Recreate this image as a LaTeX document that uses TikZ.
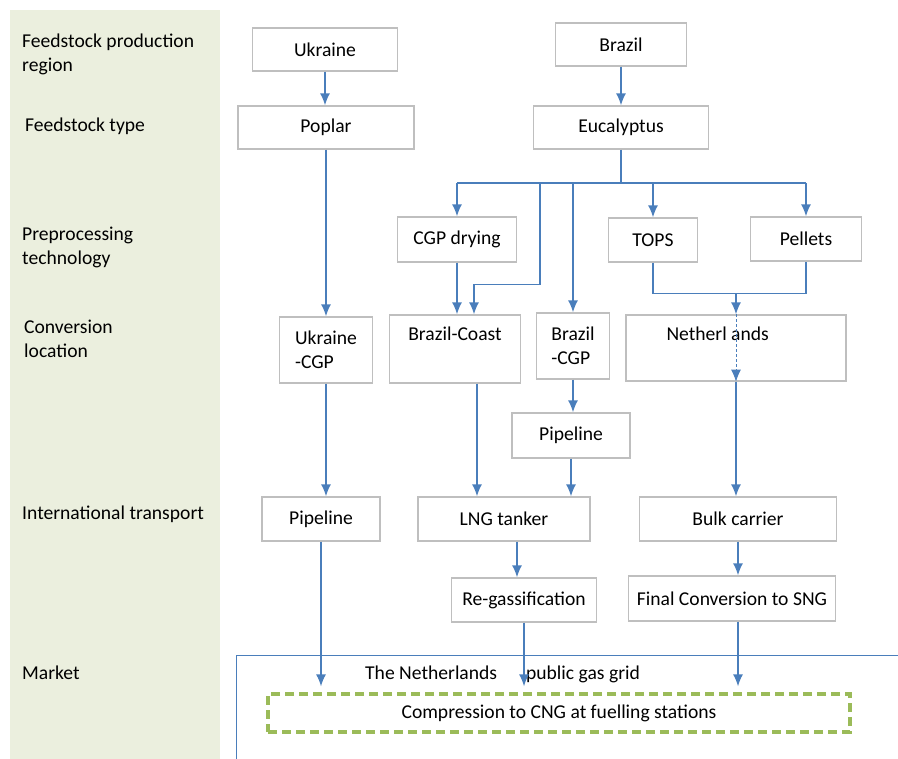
\documentclass[tikz,border=0pt]{standalone}
\usepackage{fontspec}
\setmainfont{Carlito}
\usepackage{tikz}
\usetikzlibrary{arrows.meta, calc}
\definecolor{lanegreen}{RGB}{235, 239, 222}
\definecolor{boxgray}{RGB}{191, 191, 191}
\definecolor{flowblue}{RGB}{74, 126, 187}
\definecolor{cnggreen}{RGB}{155, 187, 89}

\tikzset{
	stage/.style={draw=boxgray, line width=1.3pt, fill=white},
	rowlabel/.style={anchor=west, align=left, inner sep=0pt},
	link/.style={draw=flowblue, line width=1.5pt},
	flow/.style={link, -{Latex[length=12pt, width=10pt]}},
	topline/.style={anchor=north, inner sep=0pt, yshift=-12pt}
}

\begin{document}
\begin{tikzpicture}[x=1pt, y=-1pt, font=\fontsize{19.6}{24}\selectfont]
			\useasboundingbox (0, 0) rectangle (898, 759);
			\fill[lanegreen] (10, 10) rectangle (220, 759);
			
			\node[rowlabel] (rregion) at (22, 54)  {Feedstock production\\region};
			\node[rowlabel] (rtype)   at (25, 126) {Feedstock type};
			\node[rowlabel] (rprep)   at (22, 247) {Preprocessing\\technology};
			\node[rowlabel] (rconv)   at (24, 339) {Conversion\\location};
			\node[rowlabel] (rtrans)  at (22, 514) {International transport};
			\node[rowlabel] (rmarket) at (22, 673) {Market};
			
			\node[stage, minimum width=145pt, minimum height=43pt] (ukraine) at (325, 49.5) {Ukraine};
			\node[stage, minimum width=131pt, minimum height=43pt] (brazil)  at (621, 44.5) {Brazil};
			\node[stage, minimum width=176pt, minimum height=43pt] (poplar)  at (326, 127.5) {Poplar};
			\node[stage, minimum width=175pt, minimum height=43pt] (eucal)   at (621, 127.5) {Eucalyptus};
			
			\node[stage, minimum width=119pt, minimum height=45pt] (cgpdry)  at (457, 239.5) {CGP drying};
			\node[stage, minimum width=89pt,  minimum height=44pt] (tops)    at (653, 240)   {TOPS};
			\node[stage, minimum width=111pt, minimum height=44pt] (pellets) at (806, 239)   {Pellets};
			
			\node[stage, minimum width=93pt,  minimum height=66pt, align=left] (ukrcgp) at (326, 350) {Ukraine\\-CGP};
			\node[stage, minimum width=131pt, minimum height=68pt,
				label={[topline]north:Brazil-Coast}] (bcoast) at (455, 349) {};
			\node[stage, minimum width=73pt,  minimum height=66pt, align=left] (bcgp) at (573, 346) {Brazil\\-CGP};
			\node[stage, minimum width=220pt, minimum height=66pt,
				label={[topline, anchor=north west, xshift=41pt]north west:Netherl ands}] (nlands) at (736, 348) {};
			
			\node[stage, minimum width=118pt, minimum height=45pt] (pipeB) at (571, 435.5) {Pipeline};
			\node[stage, minimum width=118pt, minimum height=44pt] (pipeU) at (321, 519)   {Pipeline};
			\node[stage, minimum width=172pt, minimum height=44pt] (lng)   at (504, 519)   {LNG tanker};
			\node[stage, minimum width=197pt, minimum height=44pt] (bulk)  at (738, 519)   {Bulk carrier};
			\node[stage, minimum width=145pt, minimum height=44pt] (regas) at (524, 600)   {Re-gassification};
			\node[stage, minimum width=207pt, minimum height=45pt] (final) at (732, 598.5) {Final Conversion to SNG};
			
			\coordinate (frameBL) at (236, 759);
			\coordinate (frameTR) at (898, 655);
			\draw[draw=flowblue, line width=1pt] (frameBL) |- (frameTR);
			\node[anchor=west, inner sep=0pt] (grid) at (365, 674) {The Netherlands\hspace{29pt}public gas grid};
			\node[draw=cnggreen, line width=3.2pt, dash pattern=on 9pt off 5pt,
				minimum width=582pt, minimum height=38pt] (cng) at (559, 713) {Compression to CNG at fuelling stations};
			
			\draw[flow] (ukraine.south) -- (ukraine.south |- poplar.north);
			\draw[flow] (brazil.south) -- (brazil.south |- eucal.north);
			\draw[flow] (poplar.south) -- (poplar.south |- ukrcgp.north);
			
			\coordinate (bus) at (621, 183);
			\draw[link] (eucal.south) -- (bus);
			\draw[link] (bus -| cgpdry.north) -- (bus -| pellets.north);
			\draw[flow] (bus -| cgpdry.north) -- (cgpdry.north);
			\draw[flow] (bus -| bcgp.north) -- (bcgp.north);
			\draw[flow] (bus -| tops.north) -- (tops.north);
			\draw[flow] (bus -| pellets.north) -- (pellets.north);
			\draw[flow] ($(bus)+(-81, 0)$) |- ($(bcoast.north)+(19, -30)$) -- ($(bcoast.north)+(19, 0)$);
			\draw[flow] (cgpdry.south) -- (cgpdry.south |- bcoast.north);
			
			\draw[link] (tops.south) -- ++(0, 31) coordinate (merge) -| (pellets.south);
			\draw[flow] (merge -| nlands.north) -- (nlands.north);
			\draw[flow, line width=0.9pt, dash pattern=on 3pt off 2pt] (nlands.north) -- (nlands.south);
			\draw[flow] (nlands.south) -- (nlands.south |- bulk.north);
			
			\coordinate (coastout) at ($(bcoast.south)+(22, 0)$);
			\draw[flow] (ukrcgp.south) -- (ukrcgp.south |- pipeU.north);
			\draw[flow] (coastout) -- (coastout |- lng.north);
			\draw[flow] (bcgp.south) -- (bcgp.south |- pipeB.north);
			\draw[flow] (pipeB.south) -- (pipeB.south |- lng.north);
			\draw[flow] ([xshift=13pt]lng.south) -- ([xshift=13pt]lng.south |- regas.north);
			\draw[flow] (bulk.south) -- (bulk.south |- final.north);
			
			\draw[flow, shorten >=6pt] (pipeU.south) -- (pipeU.south |- cng.north);
			\draw[flow, shorten >=6pt] (regas.south) -- (regas.south |- cng.north);
			\draw[flow, shorten >=6pt] ([xshift=6pt]final.south) -- ([xshift=6pt]final.south |- cng.north);
		\end{tikzpicture}
\end{document}
